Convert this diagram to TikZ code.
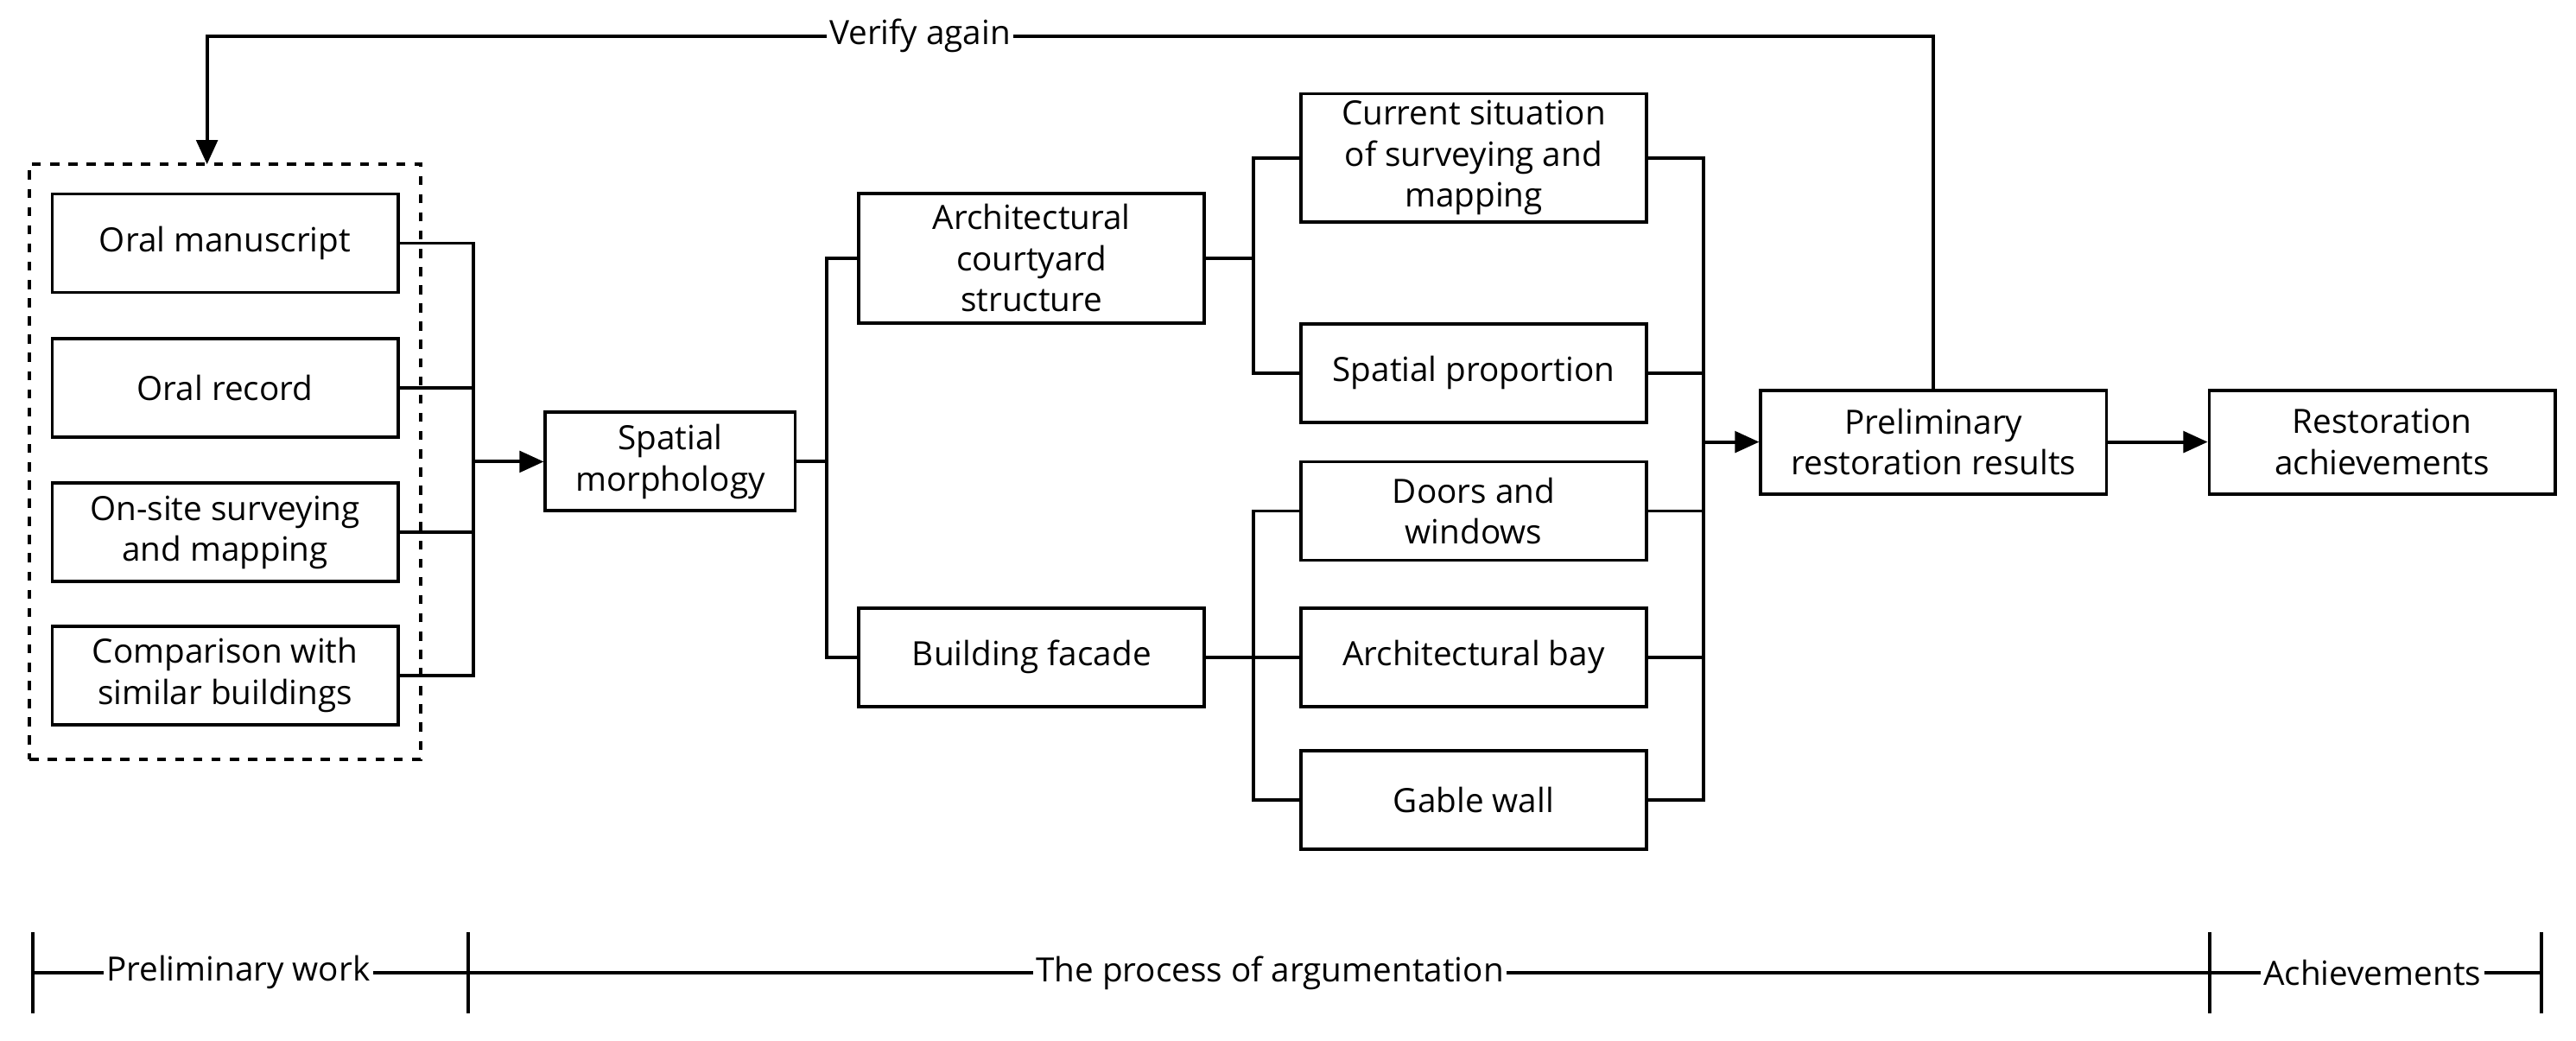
\documentclass[tikz,border=0pt]{standalone}
\usepackage{fontspec}
\setmainfont{Open Sans}
\usetikzlibrary{arrows.meta}
\begin{document}
\begin{tikzpicture}[x=0.01902cm,y=-0.01902cm,
  every node/.style={font=\fontsize{11}{13.5}\selectfont},
  box/.style={draw,line width=1.1pt,minimum width=4cm,minimum height=1.14cm,align=center,inner sep=1pt},
  ln/.style={line width=1.1pt},
  ar/.style={ln,-{Triangle[length=8pt,width=7pt]}},
  lab/.style={fill=white,inner sep=1pt}]
\useasboundingbox (0,0) rectangle (1568,633.6);
\node[draw,dashed,line width=1.1pt,minimum width=4.53cm,minimum height=6.89cm] (dash) at (137,281) {};
\node[box] (om) at (137,148) {Oral manuscript};
\node[box] (or) at (137,236) {Oral record};
\node[box] (os) at (137,324) {On-site surveying\\and mapping};
\node[box] (cs) at (137,411) {Comparison with\\similar buildings};
\node[box,minimum width=2.89cm] (sm) at (408,281) {Spatial\\morphology};
\node[box,minimum height=1.5cm] (ac) at (628,157) {Architectural\\courtyard\\structure};
\node[box] (bf) at (628,400) {Building facade};
\node[box,minimum height=1.48cm] (cur) at (897,96) {Current situation\\of surveying and\\mapping};
\node[box] (sp) at (897,227) {Spatial proportion};
\node[box] (dw) at (897,311) {Doors and\\windows};
\node[box] (ab) at (897,400) {Architectural bay};
\node[box] (gw) at (897,487) {Gable wall};
\node[box,minimum height=1.2cm] (pr) at (1177,269) {Preliminary\\restoration results};
\node[box,minimum height=1.2cm] (ra) at (1450,269) {Restoration\\achievements};
\coordinate (b1) at (288,281);
\foreach \n in {om,or,os,cs} \draw[ln] (\n.east) -| (b1);
\draw[ar] (b1) -- (sm.west);
\coordinate (b2) at (503,281);
\draw[ln] (sm.east) -- (b2);
\draw[ln] (ac.west) -| (b2) |- (bf.west);
\coordinate (b3) at (763,157);
\draw[ln] (ac.east) -- (b3);
\draw[ln] (cur.west) -| (b3) |- (sp.west);
\coordinate (b4) at (763,400);
\draw[ln] (bf.east) -- (b4);
\draw[ln] (dw.west) -| (b4) |- (gw.west);
\draw[ln] (b4) -- (ab.west);
\coordinate (b5) at (1037,269);
\foreach \n in {cur,sp,dw,ab,gw} \draw[ln] (\n.east) -| (b5);
\draw[ar] (b5) -- (pr.west);
\draw[ar] (pr.east) -- (ra.west);
\coordinate (v1) at (1177,22);
\coordinate (v2) at (126,22);
\draw[ar] (pr.north) -- (v1) -- (v2) -- (126,100);
\node[lab] (va) at (560,22) {Verify again};
\coordinate (t0) at (20,592);
\coordinate (t1) at (285,592);
\coordinate (t2) at (1345,592);
\coordinate (t3) at (1547,592);
\draw[ln] (t0) -- (t3);
\foreach \t in {t0,t1,t2,t3} \draw[ln] ([yshift=-0.47cm]\t) -- ([yshift=0.47cm]\t);
\node[lab] (l1) at (145,592) {Preliminary work};
\node[lab] (l2) at (773,592) {The process of argumentation};
\node[lab] (l3) at (1444,592) {Achievements};
\end{tikzpicture}
\end{document}
